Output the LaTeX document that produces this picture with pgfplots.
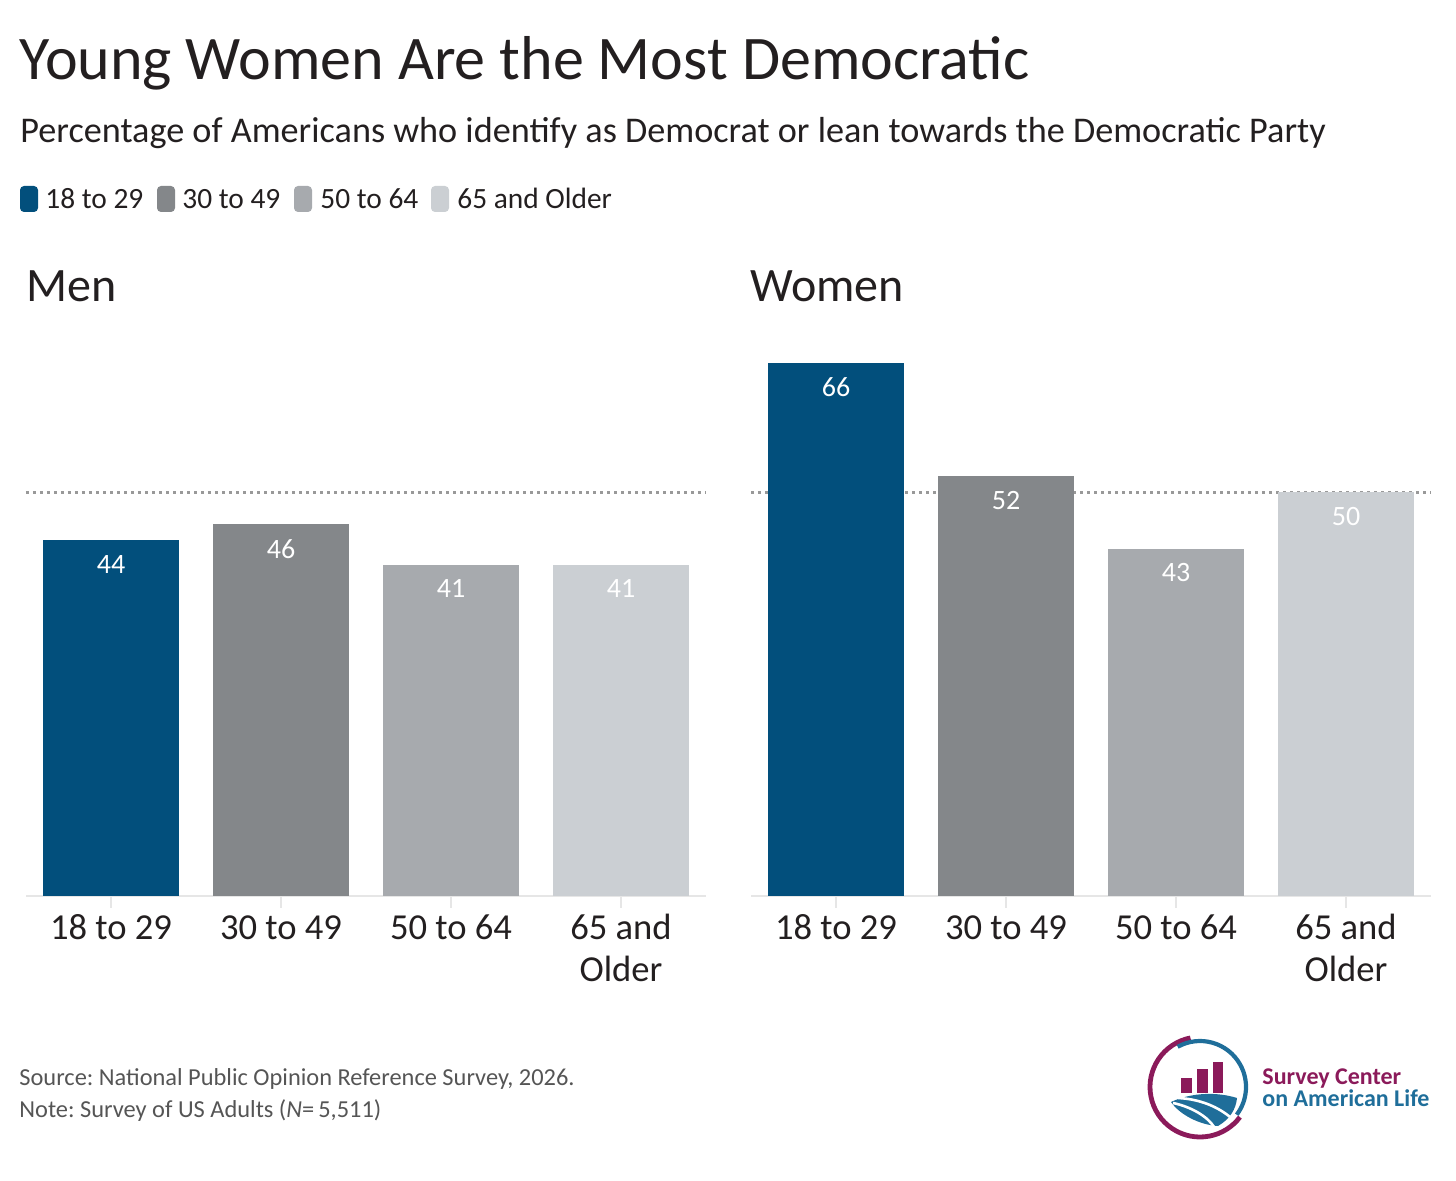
\documentclass[border=0pt]{standalone}
\usepackage{pgfplots}
\pgfplotsset{compat=1.18}
\usepackage{fontspec}
\setmainfont{Carlito}
\frenchspacing
\definecolor{c1}{HTML}{024F7C}
\definecolor{c2}{HTML}{84878A}
\definecolor{c3}{HTML}{A7AAAE}
\definecolor{c4}{HTML}{CBCFD3}
\definecolor{txt}{HTML}{231F20}
\definecolor{foot}{HTML}{555555}
\definecolor{mag}{HTML}{8B1A5A}
\definecolor{lblue}{HTML}{1F6E9A}
\definecolor{axl}{HTML}{E6E6E6}
\pgfplotsset{
  panel/.style={
    scale only axis, width=340pt, height=282.8pt, anchor=south west,
    xmin=-0.5, xmax=3.5, ymin=0, ymax=70,
    axis y line=none, axis x line*=bottom,
    x axis line style={draw=axl, line width=1pt, -},
    xtick={0,1,2,3}, xticklabels={18 to 29,30 to 49,50 to 64,{65 and\\Older}},
    xticklabel style={align=center, font=\fontsize{18.3}{21}\selectfont, text=txt, inner sep=1pt},
    typeset ticklabels with strut,
    major tick length=6pt, tick align=outside,
    xtick style={draw=axl, line width=0.8pt},
    clip=false,
    /pgf/number format/assume math mode=true,
  },
  mybar/.style={ybar, bar shift=0pt, bar width=68pt, fill=#1, draw=none,
    nodes near coords,
    every node near coord/.append style={anchor=north, yshift=-4pt, text=white,
      font=\fontsize{14}{16}\selectfont}},
  refline/.style={draw=gray!80, dotted, line width=1.5pt, forget plot},
}
\begin{document}
\begin{tikzpicture}
\useasboundingbox (0,0) rectangle (728pt,-590.5pt);
\begin{scope}[x=0.5pt,y=-0.5pt]
\node[anchor=base west, inner sep=0, text=txt, font=\fontsize{31}{31}\selectfont] at (19,80) {Young Women Are the Most Democratic};
\node[anchor=base west, inner sep=0, text=txt, font=\fontsize{18.1}{19}\selectfont] at (20,143) {Percentage of Americans who identify as Democrat or lean towards the Democratic Party};
\fill[c1, rounded corners=2pt] (20,186) rectangle (38,212);
\fill[c2, rounded corners=2pt] (157,186) rectangle (175,212);
\fill[c3, rounded corners=2pt] (294,186) rectangle (312,212);
\fill[c4, rounded corners=2pt] (431,186) rectangle (449,212);
\begin{scope}[every node/.style={anchor=base west, inner sep=0, text=txt, font=\fontsize{14.7}{16}\selectfont}]
\node at (45,209) {18 to 29};
\node at (182,209) {30 to 49};
\node at (320,209) {50 to 64};
\node at (457,209) {65 and Older};
\end{scope}
\node[anchor=base west, inner sep=0, text=txt, font=\fontsize{24}{25}\selectfont] at (26,302) {Men};
\node[anchor=base west, inner sep=0, text=txt, font=\fontsize{24}{25}\selectfont] at (750,302) {Women};
\node[anchor=base west, inner sep=0, text=foot, font=\fontsize{12.2}{13}\selectfont] at (19,1085) {Source: National Public Opinion Reference Survey, 2026.};
\node[anchor=base west, inner sep=0, text=foot, font=\fontsize{12.2}{13}\selectfont] at (19,1117) {Note: Survey of US Adults ({\itshape N}=\,5,511)};
\node[anchor=base west, inner sep=0, text=mag, font=\bfseries\fontsize{12}{13}\selectfont] at (1262,1084) {Survey Center};
\node[anchor=base west, inner sep=0, text=lblue, font=\bfseries\fontsize{12}{13}\selectfont] at (1262,1106) {on American Life};
\end{scope}
% logo
\begin{scope}[shift={(600pt,-543.5pt)}, x=0.5pt, y=0.5pt]
\draw[mag, line width=2.4pt] (101:50) arc[start angle=101, end angle=323, radius=50];
\draw[lblue, line width=2.1pt] (119:46) arc[start angle=119, end angle=-37, radius=46];
\fill[mag] (-19,-6) rectangle (-8,9);
\fill[mag] (-3,-6) rectangle (8,18);
\fill[mag] (13,-6) rectangle (23,25);
\fill[lblue] (-29,-15) .. controls (-8,-5) and (18,-5) .. (37,-11)
   .. controls (36,-22) and (30,-32) .. (18,-39)
   .. controls (0,-38) and (-20,-28) .. cycle;
\draw[white, line width=1.3pt] (-22,-11) .. controls (0,-12) and (18,-20) .. (30,-30);
\draw[white, line width=1.3pt] (-27,-16) .. controls (-8,-20) and (8,-30) .. (14,-40);
\end{scope}
% Men
\begin{axis}[panel, at={(13pt,-448pt)}]
\addplot[refline] coordinates {(-0.5,50) (3.5,50)};
\addplot[mybar=c1] coordinates {(0,44)};
\addplot[mybar=c2] coordinates {(1,46)};
\addplot[mybar=c3] coordinates {(2,41)};
\addplot[mybar=c4] coordinates {(3,41)};
\end{axis}
% Women
\begin{axis}[panel, at={(375.5pt,-448pt)}]
\addplot[refline] coordinates {(-0.5,50) (3.5,50)};
\addplot[mybar=c1] coordinates {(0,66)};
\addplot[mybar=c2] coordinates {(1,52)};
\addplot[mybar=c3] coordinates {(2,43)};
\addplot[mybar=c4] coordinates {(3,50)};
\end{axis}
\end{tikzpicture}
\end{document}
